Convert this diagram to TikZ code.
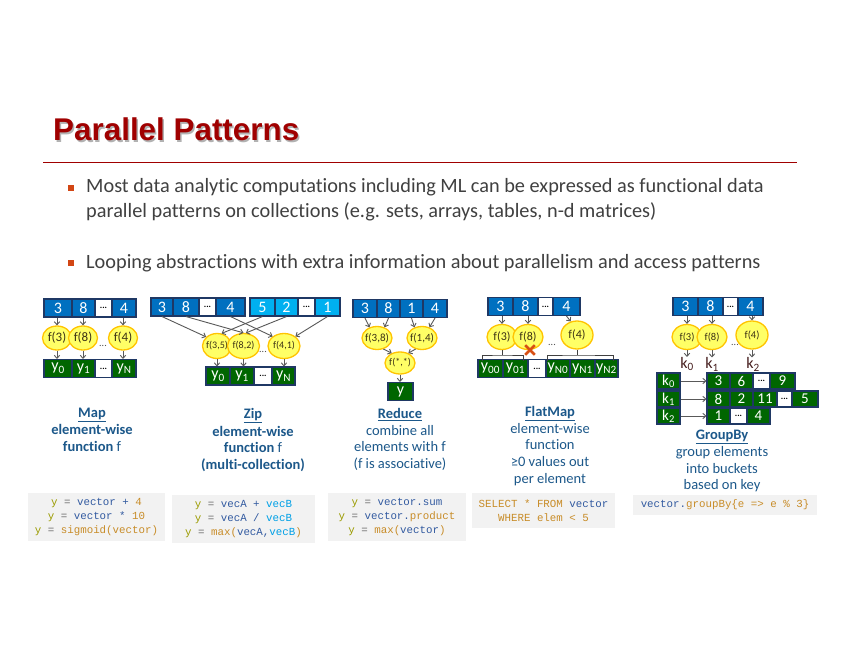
\documentclass[tikz,border=0pt]{standalone}
\usepackage{fontspec}
\setmainfont{Carlito}[Ligatures=NoCommon]
\newfontfamily\titlefont{Liberation Sans}
\newfontfamily\codefont{Liberation Mono}
\usetikzlibrary{shapes.geometric,shapes.misc,arrows.meta}
\definecolor{cblue}{RGB}{0,112,192}
\definecolor{clight}{RGB}{0,176,240}
\definecolor{cgreen}{RGB}{0,102,0}
\definecolor{cnavy}{RGB}{31,56,100}
\definecolor{fyel}{RGB}{255,255,102}
\definecolor{fgold}{RGB}{255,196,0}
\definecolor{ftext}{RGB}{60,50,20}
\definecolor{arr}{RGB}{89,89,89}
\definecolor{lblue}{RGB}{28,88,138}
\definecolor{ttl}{RGB}{160,0,0}
\definecolor{bul}{RGB}{64,64,64}
\definecolor{bsq}{RGB}{210,70,20}
\definecolor{xred}{RGB}{215,80,20}
\definecolor{codebg}{RGB}{242,242,242}
\definecolor{kcol}{RGB}{70,30,30}
\definecolor{cyc}{RGB}{155,155,0}
\definecolor{ceq}{RGB}{110,110,110}
\definecolor{cvec}{RGB}{50,90,160}
\definecolor{cop}{RGB}{200,140,40}
\definecolor{cvb}{RGB}{0,160,230}
\newcommand\kY[1]{\textcolor{cyc}{#1}}
\newcommand\kE[1]{\textcolor{ceq}{#1}}
\newcommand\kV[1]{\textcolor{cvec}{#1}}
\newcommand\kO[1]{\textcolor{cop}{#1}}
\newcommand\kB[1]{\textcolor{cvb}{#1}}
\tikzset{
  cell/.style={draw=cnavy, line width=1.1pt, minimum height=18, inner sep=0, text=white, font=\fontsize{16}{16}\selectfont},
  bc/.style={cell, fill=cblue},
  lc/.style={cell, fill=clight},
  gc/.style={cell, fill=cgreen},
  wc/.style={cell, fill=white, text=black, font=\bfseries\fontsize{9}{9}\selectfont},
  gcs/.style={gc, minimum height=16, font=\fontsize{15}{15}\selectfont},
  wcs/.style={wc, minimum height=16},
  dotsym/.style={inner sep=0, text=black!70, font=\fontsize{10}{10}\selectfont},
  klab/.style={inner sep=0, text=kcol, font=\fontsize{16}{16}\selectfont},
  ar/.style={draw=arr, line width=0.9pt, -{Straight Barb[length=3pt,width=5.5pt]}},
  brk/.style={draw=black!75, line width=0.9pt},
  fn/.style={ellipse, draw=fgold, fill=fyel, line width=1.3pt, inner sep=0},
  lab/.style={align=center, text=lblue, inner sep=0, font=\fontsize{14.5}{16.7}\selectfont},
  codebox/.style={fill=codebg, inner sep=0, align=center, font=\codefont\fontsize{10.8}{14.3}\selectfont},
  btext/.style={inner sep=0, anchor=base west, text=bul, font=\fontsize{20.3}{20.3}\selectfont},
  bsqr/.style={fill=bsq, minimum size=6, inner sep=0},
}
\newcommand\cellx[6]{%
  \pgfmathsetmacro\cellw{#3-#2}%
  \pgfmathsetmacro\cellc{(#2+#3)/2}%
  \node[#5,minimum width=\cellw pt] (#1) at (\cellc,#4) {#6};}
\newcommand\fnode[7]{%
  \node[fn,minimum width=#4,minimum height=#5,label={[inner sep=0,text=ftext,font=\fontsize{#6}{#6}\selectfont]center:{#7}}] (#1) at (#2,#3) {};}
\begin{document}
\begin{tikzpicture}[x=1pt,y=-1pt]
\useasboundingbox[fill=white] (0,0) rectangle (841,650);
% title
\node[anchor=base west, inner sep=0, text=black!30, font=\titlefont\bfseries\fontsize{31.4}{31.4}\selectfont] (tshadow) at (54.5,142.5) {Parallel Patterns};
\node[anchor=base west, inner sep=0, text=ttl, font=\titlefont\bfseries\fontsize{31.4}{31.4}\selectfont] (title) at (53,141) {Parallel Patterns};
\coordinate (r1) at (43,163); \coordinate (r2) at (797,163);
\draw[draw=ttl, line width=1pt] (r1) -- (r2);
% bullets
\node[bsqr] (b1) at (71,188) {};
\node[btext] (t1) at (86,193) {Most data analytic computations including ML can be expressed as functional data};
\node[btext] (t2) at (86,218) {parallel patterns on collections (e.g. sets, arrays, tables, n-d matrices)};
\node[bsqr] (b2) at (71,263) {};
\node[btext] (t3) at (86,268) {Looping abstractions with extra information about parallelism and access patterns};
% ---------- Map
\cellx{m1}{44}{72}{308}{bc}{3}
\cellx{m2}{72}{95}{308}{bc}{8}
\cellx{m3}{95}{112}{308}{wc}{...}
\cellx{m4}{112}{136}{308}{bc}{4}
\fnode{mf1}{57}{338}{29}{24}{13}{f(3)}
\fnode{mf2}{83}{338}{29}{24}{13}{f(8)}
\fnode{mf3}{123}{338}{29}{24}{13}{f(4)}
\node[dotsym] (md) at (103,346) {...};
\cellx{my1}{44}{72}{368.5}{gc}{y\textsubscript{0}}
\cellx{my2}{72}{95}{368.5}{gc}{y\textsubscript{1}}
\cellx{my3}{95}{112}{368.5}{wc}{...}
\cellx{my4}{112}{136}{368.5}{gc}{y\textsubscript{N}}
\draw[ar] (mf1.north |- m1.south) -- (mf1.north);
\draw[ar] (mf2.north |- m2.south) -- (mf2.north);
\draw[ar] (mf3.north |- m4.south) -- (mf3.north);
\draw[ar] (mf1.south) -- (mf1.south |- my1.north);
\draw[ar] (mf2.south) -- (mf2.south |- my2.north);
\draw[ar] (mf3.south) -- (mf3.south |- my4.north);
% ---------- Zip
\cellx{za1}{151}{173}{307}{bc}{3}
\cellx{za2}{173}{199}{307}{bc}{8}
\cellx{za3}{199}{216}{307}{wc}{...}
\cellx{za4}{216}{245}{307}{bc}{4}
\cellx{zb1}{250}{275}{307}{lc}{5}
\cellx{zb2}{275}{298}{307}{lc}{2}
\cellx{zb3}{298}{315}{307}{wc}{...}
\cellx{zb4}{315}{340}{307}{lc}{1}
\fnode{zf1}{217}{346}{29}{25}{10}{f(3,5)}
\fnode{zf2}{243.5}{346}{32}{25}{10}{f(8,2)}
\fnode{zf3}{284}{346}{32}{25}{10}{f(4,1)}
\node[dotsym] (zd) at (263,352) {...};
\cellx{zy1}{206}{230}{376}{gc}{y\textsubscript{0}}
\cellx{zy2}{230}{254}{376}{gc}{y\textsubscript{1}}
\cellx{zy3}{254}{272}{376}{wc}{...}
\cellx{zy4}{272}{295}{376}{gc}{y\textsubscript{N}}
\draw[ar] (za1.south) -- (zf1.140);
\draw[ar] (za2.south) -- (zf2.north);
\draw[ar] (za4.south) -- (zf3.140);
\draw[ar] (zb1.south) -- (zf1.70);
\draw[ar] (zb2.south) -- (zf2.80);
\draw[ar] (zb4.south) -- (zf3.40);
\draw[ar] (zf1.south) -- (zf1.south |- zy1.north);
\draw[ar] (zf2.south) -- (zf2.south |- zy2.north);
\draw[ar] (zf3.south) -- (zf3.south |- zy4.north);
% ---------- Reduce
\cellx{ra1}{353}{377}{308.5}{bc}{3}
\cellx{ra2}{377}{400}{308.5}{bc}{8}
\cellx{ra3}{400}{423}{308.5}{bc}{1}
\cellx{ra4}{423}{447}{308.5}{bc}{4}
\fnode{rf1}{377}{338}{30}{23}{11}{f(3,8)}
\fnode{rf2}{422}{338}{30}{23}{11}{f(1,4)}
\fnode{rf3}{400}{363}{30}{22}{10}{f(*,*)}
\cellx{ry}{388}{413}{391.5}{gc}{y}
\draw[ar] (ra1.south) -- (rf1.125);
\draw[ar] (ra2.south) -- (rf1.55);
\draw[ar] (ra3.south) -- (rf2.125);
\draw[ar] (ra4.south) -- (rf2.55);
\draw[ar] (rf1.300) -- (rf3.130);
\draw[ar] (rf2.240) -- (rf3.50);
\draw[ar] (rf3.south) -- (rf3.south |- ry.north);
% ---------- FlatMap
\cellx{fa1}{488}{513}{306.5}{bc}{3}
\cellx{fa2}{513}{538}{306.5}{bc}{8}
\cellx{fa3}{538}{553}{306.5}{wc}{...}
\cellx{fa4}{553}{580}{306.5}{bc}{4}
\fnode{ff1}{502}{337}{30}{25}{12}{f(3)}
\fnode{ff2}{528}{337}{30}{25}{12}{f(8)}
\fnode{ff3}{577}{335}{32}{28}{12}{f(4)}
\node[dotsym] (fd) at (552,345) {...};
\node[cross out, draw=xred, line width=2.6pt, minimum size=7, inner sep=0] (xm) at (530,350) {};
\cellx{fy1}{478}{503}{368.5}{gc}{y\textsubscript{00}}
\cellx{fy2}{503}{528}{368.5}{gc}{y\textsubscript{01}}
\cellx{fy3}{528}{546}{368.5}{wc}{...}
\cellx{fy4}{546}{570}{368.5}{gc}{y\textsubscript{N0}}
\cellx{fy5}{570}{595}{368.5}{gc}{y\textsubscript{N1}}
\cellx{fy6}{595}{618}{368.5}{gc}{y\textsubscript{N2}}
\coordinate (fbl) at (482,360.5); \coordinate (fbr) at (523,360.5); \coordinate (fbm) at (502,355);
\coordinate (frl) at (547,360.5); \coordinate (frr) at (613,360.5); \coordinate (frm) at (577,355);
\draw[brk] (fbl) |- (fbm) -| (fbr);
\draw[brk] (ff1.south) -- (fbm);
\draw[brk] (frl) |- (frm) -| (frr);
\draw[brk] (ff3.south) -- (frm);
\draw[ar] (ff1.north |- fa1.south) -- (ff1.north);
\draw[ar] (ff2.north |- fa2.south) -- (ff2.north);
\draw[ar] (fa4.south) -- (ff3.115);
% ---------- GroupBy
\cellx{ga1}{673}{698}{306.5}{bc}{3}
\cellx{ga2}{698}{723}{306.5}{bc}{8}
\cellx{ga3}{723}{738}{306.5}{wc}{...}
\cellx{ga4}{738}{763}{306.5}{bc}{4}
\fnode{gf1}{687}{337}{30}{25}{10.5}{f(3)}
\fnode{gf2}{712}{337}{30}{25}{10.5}{f(8)}
\fnode{gf3}{752}{335}{32}{28}{10.5}{f(4)}
\node[dotsym] (gd) at (735,345) {...};
\node[klab] (gk1) at (687,364) {k\textsubscript{0}};
\node[klab] (gk2) at (712,364.5) {k\textsubscript{1}};
\node[klab] (gk3) at (753,364.5) {k\textsubscript{2}};
\draw[ar] (gf1.north |- ga1.south) -- (gf1.north);
\draw[ar] (gf2.north |- ga2.south) -- (gf2.north);
\draw[ar] (gf3.north |- ga4.south) -- (gf3.north);
\draw[ar] (gf1.south) -- (gf1.south |- gk1.north);
\draw[ar] (gf2.south) -- (gf2.south |- gk2.north);
\draw[ar] (gf3.south) -- (gf3.south |- gk3.north);
\cellx{gkb0}{657}{680}{381}{gcs}{k\textsubscript{0}}
\cellx{gkb1}{657}{680}{399}{gcs}{k\textsubscript{1}}
\cellx{gkb2}{657}{680}{416}{gcs}{k\textsubscript{2}}
\cellx{gr01}{707}{730}{381}{gcs}{3}
\cellx{gr02}{730}{753}{381}{gcs}{6}
\cellx{gr03}{753}{770}{381}{wcs}{...}
\cellx{gr04}{770}{795}{381}{gcs}{9}
\cellx{gr11}{707}{730}{399}{gcs}{8}
\cellx{gr12}{730}{753}{399}{gcs}{2}
\cellx{gr13}{753}{777}{399}{gcs}{11}
\cellx{gr14}{777}{792}{399}{wcs}{...}
\cellx{gr15}{792}{818}{399}{gcs}{5}
\cellx{gr21}{707}{730}{416}{gcs}{1}
\cellx{gr22}{730}{747}{416}{wcs}{...}
\cellx{gr23}{747}{770}{416}{gcs}{4}
\draw[ar] (gkb0.east) -- (gr01.west);
\draw[ar] (gkb1.east) -- (gr11.west);
\draw[ar] (gkb2.east) -- (gr21.west);
% ---------- labels
\node[lab, anchor=north] (lmap) at (92,408) {\textbf{\underline{Map}}\\ \textbf{element-wise}\\ \textbf{function} f};
\node[lab, anchor=north] (lzip) at (253,408) {\textbf{\underline{Zip}}\\[1pt] \textbf{element-wise}\\ \textbf{function} f\\ \textbf{(multi-collection)}};
\node[lab, anchor=north] (lred) at (400,408) {\textbf{\underline{Reduce}}\\ combine all\\ elements with f\\ (f is associative)};
\node[lab, anchor=north] (lfm) at (550,406) {\textbf{\underline{FlatMap}}\\ element-wise\\ function\\ ≥0 values out\\ per element};
\node[lab, anchor=north] (lgb) at (722,430) {\textbf{\underline{GroupBy}}\\ group elements\\ into buckets\\ based on key};
% ---------- code
\node[codebox, minimum width=137, minimum height=48] (c1) at (96.5,517) {\kY{y} \kE{=} \kV{vector +} \kO{4}\\ \kY{y} \kE{=} \kV{vector *} \kO{10}\\ \kY{y} \kE{=} \kO{sigmoid(vector)}};
\node[codebox, minimum width=143, minimum height=48] (c2) at (243.5,519) {\kY{y} \kE{=} \kV{vecA +} \kB{vecB}\\ \kY{y} \kE{=} \kV{vecA /} \kB{vecB}\\ \kY{y} \kE{=} \kO{max(}\kV{vecA,}\kB{vecB}\kO{)}};
\node[codebox, minimum width=138, minimum height=48] (c3) at (397,517) {\kY{y} \kE{=} \kV{vector.sum}\\ \kY{y} \kE{=} \kV{vector.}\kO{product}\\ \kY{y} \kE{=} \kO{max(}\kV{vector}\kO{)}};
\node[codebox, minimum width=143, minimum height=35] (c4) at (543.5,510.5) {\kO{SELECT * FROM} \kV{vector}\\ \kO{WHERE elem < 5}};
\node[codebox, minimum width=184, minimum height=20] (c5) at (725,505) {\kV{vector.}\kO{groupBy\{e => e \% 3\}}};
\end{tikzpicture}
\end{document}
